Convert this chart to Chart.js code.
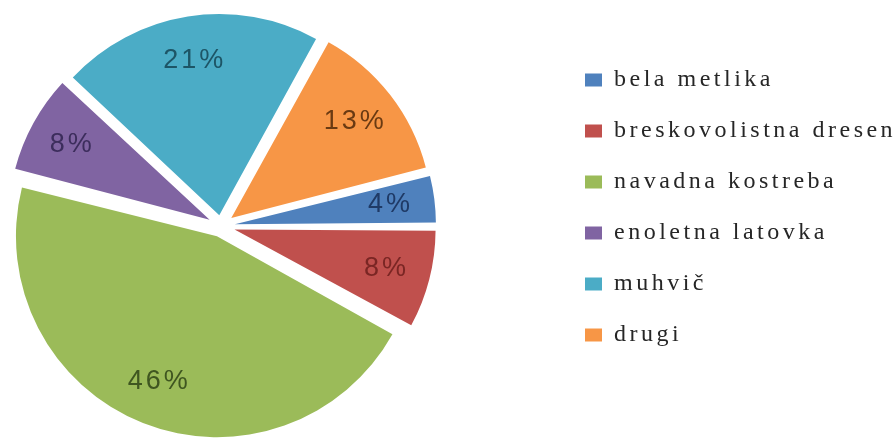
<!DOCTYPE html>
<html>
<head>
<meta charset="utf-8">
<script src="https://cdn.jsdelivr.net/npm/chart.js@4.4.0/dist/chart.umd.min.js"></script>
<style>
  html, body { margin: 0; padding: 0; background: #fff; }
  #wrap { width: 896px; height: 439px; position: relative; }
</style>
</head>
<body>
<div id="wrap"><canvas id="pie"></canvas></div>
<script>
const categories = ['bela metlika', 'breskovolistna dresen', 'navadna kostreba', 'enoletna latovka', 'muhvič', 'drugi'];
const shares = [4, 8, 46, 8, 21, 13];
const sliceColors = ['#4F81BD', '#C0504D', '#9BBB59', '#8064A2', '#4BACC6', '#F79646'];
const labelColors = ['#1F3A66', '#7A2624', '#3F5620', '#3C2D5C', '#1D5566', '#6A3A12'];
// how far each slice is pulled out, in px
const explodePx = [14, 14, 11, 13, 11, 13];

const PIE_X = 221, PIE_Y = 226, PIE_RADIUS = 201;

// stretched look of the original text
const spacingPlugin = {
    id: 'spacing',
    beforeUpdate(chart) { chart.ctx.letterSpacing = '3.5px'; },
    beforeDraw(chart) { chart.ctx.letterSpacing = '3.5px'; }
};

// put the pie and the legend where they are in the picture
const placePlugin = {
    id: 'place',
    afterLayout(chart) {
        chart.chartArea = {
            left: PIE_X - 250, right: PIE_X + 250,
            top: PIE_Y - 250, bottom: PIE_Y + 250,
            width: 500, height: 500
        };
        const lg = chart.legend;
        const w = lg.right - lg.left;
        lg.left = 558;
        lg.right = lg.left + w;
        lg.top = 0;
        lg.bottom = 415;
    },
    afterDatasetsUpdate(chart) {
        // chart.js moves a slice by offset / 4 and also grows small slices; undo the growth
        const meta = chart.getDatasetMeta(0);
        meta.data.forEach((arc, i) => {
            const fix = 1 - Math.sin(Math.min(Math.PI, arc.circumference || 0));
            arc.outerRadius = PIE_RADIUS - explodePx[i] * fix;
        });
    }
};

const percentLabels = {
    id: 'percentLabels',
    afterDatasetsDraw(chart) {
        const ctx = chart.ctx;
        const meta = chart.getDatasetMeta(0);
        ctx.save();
        ctx.font = '27px "Liberation Sans", Arial, sans-serif';
        ctx.letterSpacing = '3px';
        ctx.textAlign = 'center';
        ctx.textBaseline = 'middle';
        meta.data.forEach((arc, i) => {
            const mid = (arc.startAngle + arc.endAngle) / 2;
            const r = PIE_RADIUS * 0.78 + explodePx[i];
            ctx.fillStyle = labelColors[i];
            ctx.fillText(shares[i] + '%', arc.x + Math.cos(mid) * r, arc.y + Math.sin(mid) * r);
        });
        ctx.restore();
    }
};

new Chart(document.getElementById('pie'), {
    type: 'pie',
    data: {
        labels: categories,
        datasets: [{
            data: shares,
            backgroundColor: sliceColors,
            borderWidth: 0,
            offset: explodePx.map(p => p * 4),
            hoverOffset: 0,
            radius: PIE_RADIUS
        }]
    },
    options: {
        responsive: true,
        maintainAspectRatio: false,
        animation: false,
        rotation: 75.6,
        plugins: {
            legend: {
                position: 'right',
                labels: {
                    boxWidth: 17,
                    boxHeight: 13,
                    padding: 27,
                    color: '#262626',
                    font: { family: '"Liberation Serif", "Times New Roman", serif', size: 24 }
                }
            },
            tooltip: { enabled: false }
        }
    },
    plugins: [spacingPlugin, placePlugin, percentLabels]
});
</script>
</body>
</html>
